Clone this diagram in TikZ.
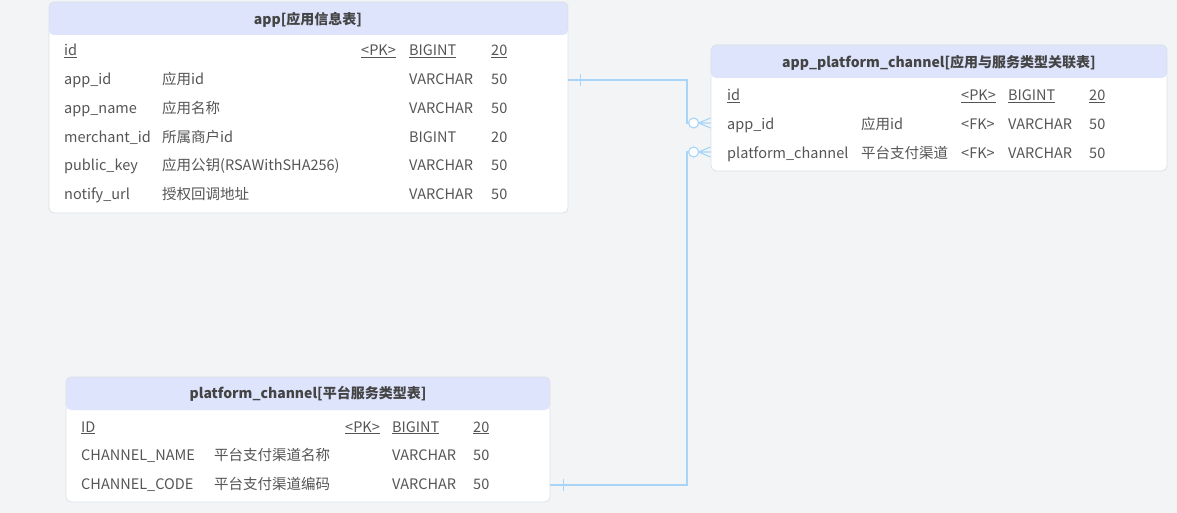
\documentclass[tikz,border=0pt]{standalone}
\usepackage{fontspec}
\setmainfont{Noto Sans CJK SC}
\definecolor{bg}{HTML}{F2F4F5}
\definecolor{hdr}{HTML}{DDE4FC}
\definecolor{bord}{HTML}{DCE1E8}
\definecolor{txt}{HTML}{555555}
\definecolor{ttl}{HTML}{444444}
\definecolor{lnk}{HTML}{A8D5F7}
\tikzset{
  tbl/.style={draw=bord, fill=white, rounded corners=5pt, inner sep=0pt, line width=0.8pt,
    path picture={\fill[hdr] (path picture bounding box.north west) rectangle ([yshift=-33pt]path picture bounding box.north east);}},
  ttlt/.style={font=\fontsize{14}{16}\selectfont\bfseries, text=ttl, inner sep=0pt},
  cell/.style={font=\fontsize{14.5}{16}\selectfont, text=txt, anchor=base west, inner sep=0pt},
  conn/.style={draw=lnk, line width=1.1pt},
}
\newcommand{\ul}[1]{\underline{#1}}
\begin{document}
\begin{tikzpicture}[x=1pt,y=-1pt]
\fill[bg] (0,0) rectangle (1177,513);
\useasboundingbox (0,0) rectangle (1177,513);

% ---- app table
\node[tbl, minimum width=519pt, minimum height=211pt] (app) at (308.5,107.5) {};
\node[ttlt] (appT) at (308,20) {app[应用信息表]};
\node[cell] (a1a) at (64,56) {\ul{id}};
\node[cell] (a1c) at (361,56) {\ul{<PK>}};
\node[cell] (a1d) at (409,56) {\ul{BIGINT}};
\node[cell] (a1e) at (491,56) {\ul{20}};
\node[cell] (a2a) at (64,85) {app\_id};
\node[cell] (a2b) at (162,85) {应用id};
\node[cell] (a2d) at (409,85) {VARCHAR};
\node[cell] (a2e) at (491,85) {50};
\node[cell] (a3a) at (64,114) {app\_name};
\node[cell] (a3b) at (162,114) {应用名称};
\node[cell] (a3d) at (409,114) {VARCHAR};
\node[cell] (a3e) at (491,114) {50};
\node[cell] (a4a) at (64,143) {merchant\_id};
\node[cell] (a4b) at (162,143) {所属商户id};
\node[cell] (a4d) at (409,143) {BIGINT};
\node[cell] (a4e) at (491,143) {20};
\node[cell] (a5a) at (64,171) {public\_key};
\node[cell] (a5b) at (162,171) {应用公钥(RSAWithSHA256)};
\node[cell] (a5d) at (409,171) {VARCHAR};
\node[cell] (a5e) at (491,171) {50};
\node[cell] (a6a) at (64,200) {notify\_url};
\node[cell] (a6b) at (162,200) {授权回调地址};
\node[cell] (a6d) at (409,200) {VARCHAR};
\node[cell] (a6e) at (491,200) {50};

% ---- app_platform_channel table
\node[tbl, minimum width=456pt, minimum height=126pt] (apc) at (939,108) {};
\node[ttlt] (apcT) at (939,63) {app\_platform\_channel[应用与服务类型关联表]};
\node[cell] (b1a) at (727,101) {\ul{id}};
\node[cell] (b1c) at (961,101) {\ul{<PK>}};
\node[cell] (b1d) at (1008,101) {\ul{BIGINT}};
\node[cell] (b1e) at (1089,101) {\ul{20}};
\node[cell] (b2a) at (727,130) {app\_id};
\node[cell] (b2b) at (861,130) {应用id};
\node[cell] (b2c) at (961,130) {<FK>};
\node[cell] (b2d) at (1008,130) {VARCHAR};
\node[cell] (b2e) at (1089,130) {50};
\node[cell] (b3a) at (727,159) {platform\_channel};
\node[cell] (b3b) at (861,159) {平台支付渠道};
\node[cell] (b3c) at (961,159) {<FK>};
\node[cell] (b3d) at (1008,159) {VARCHAR};
\node[cell] (b3e) at (1089,159) {50};

% ---- platform_channel table
\node[tbl, minimum width=484pt, minimum height=125pt] (pc) at (308,439.5) {};
\node[ttlt] (pcT) at (308,394) {platform\_channel[平台服务类型表]};
\node[cell] (c1a) at (81,432) {\ul{ID}};
\node[cell] (c1c) at (345,432) {\ul{<PK>}};
\node[cell] (c1d) at (392,432) {\ul{BIGINT}};
\node[cell] (c1e) at (473,432) {\ul{20}};
\node[cell] (c2a) at (81,460) {CHANNEL\_NAME};
\node[cell] (c2b) at (214,460) {平台支付渠道名称};
\node[cell] (c2d) at (392,460) {VARCHAR};
\node[cell] (c2e) at (473,460) {50};
\node[cell] (c3a) at (81,489) {CHANNEL\_CODE};
\node[cell] (c3b) at (214,489) {平台支付渠道编码};
\node[cell] (c3d) at (392,489) {VARCHAR};
\node[cell] (c3e) at (473,489) {50};

% ---- connector endpoints
\coordinate (s1) at (app.east |- 0,80);
\coordinate (e1) at (apc.west |- 0,123);
\coordinate (s2) at (pc.east |- 0,485);
\coordinate (e2) at (apc.west |- 0,152);
\coordinate (k1) at (687,80);
\coordinate (k2) at (687,485);

% connector 1: app.app_id -> apc.app_id
\draw[conn] (s1) -- (k1) |- ([xshift=-22pt]e1);
\draw[conn] ([xshift=12pt,yshift=-6pt]s1) -- ([xshift=12pt,yshift=6pt]s1);
\draw[conn, fill=white] ([xshift=-17pt]e1) circle (5pt);
\draw[conn] ([xshift=-12pt]e1) -- (e1)
            ([xshift=-12pt]e1) -- ([yshift=-5pt]e1)
            ([xshift=-12pt]e1) -- ([yshift=5pt]e1);

% connector 2: platform_channel.CHANNEL_CODE -> apc.platform_channel
\draw[conn] (s2) -- (k2) |- ([xshift=-22pt]e2);
\draw[conn] ([xshift=13pt,yshift=-6pt]s2) -- ([xshift=13pt,yshift=6pt]s2);
\draw[conn, fill=white] ([xshift=-17pt]e2) circle (5pt);
\draw[conn] ([xshift=-12pt]e2) -- (e2)
            ([xshift=-12pt]e2) -- ([yshift=-5pt]e2)
            ([xshift=-12pt]e2) -- ([yshift=5pt]e2);
\end{tikzpicture}
\end{document}
